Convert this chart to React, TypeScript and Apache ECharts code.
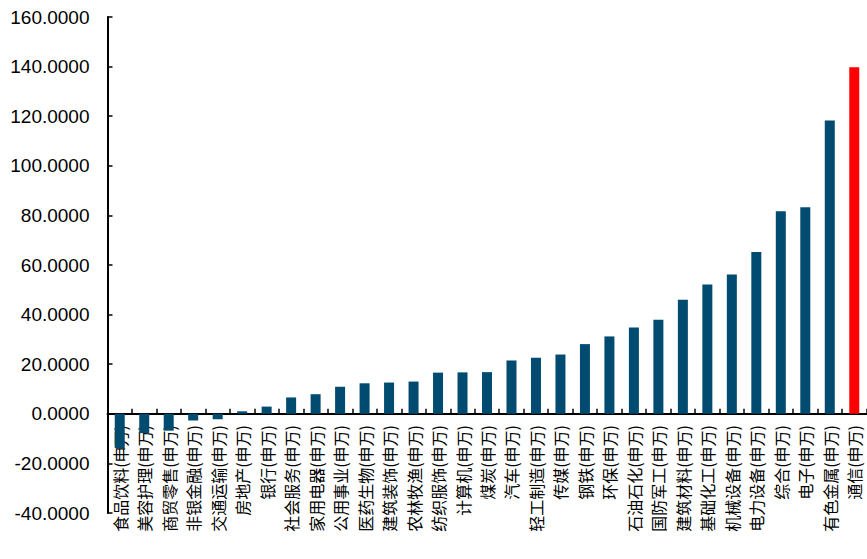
import React, { useEffect, useRef } from "react";
import * as echarts from "echarts";

const categories = [
  "食品饮料(申万)", "美容护理(申万)", "商贸零售(申万)", "非银金融(申万)", "交通运输(申万)",
  "房地产(申万)", "银行(申万)", "社会服务(申万)", "家用电器(申万)", "公用事业(申万)",
  "医药生物(申万)", "建筑装饰(申万)", "农林牧渔(申万)", "纺织服饰(申万)", "计算机(申万)",
  "煤炭(申万)", "汽车(申万)", "轻工制造(申万)", "传媒(申万)", "钢铁(申万)",
  "环保(申万)", "石油石化(申万)", "国防军工(申万)", "建筑材料(申万)", "基础化工(申万)",
  "机械设备(申万)", "电力设备(申万)", "综合(申万)", "电子(申万)", "有色金属(申万)",
  "通信(申万)",
];

const values = [
  -13.8, -7.8, -6.8, -2.7, -2.2,
  1.0, 2.9, 6.6, 7.9, 10.9,
  12.3, 12.6, 13.0, 16.6, 16.7,
  16.8, 21.5, 22.6, 23.9, 28.1,
  31.2, 34.8, 37.9, 46.0, 52.1,
  56.2, 65.2, 81.7, 83.3, 118.3,
  139.7,
];

const highlight = "通信(申万)";
const yTicks = { min: -40, max: 160, interval: 20 };

export default function App() {
  const ref = useRef<HTMLDivElement>(null);
  useEffect(() => {
    if (!ref.current) return;
    const chart = echarts.init(ref.current, undefined, { renderer: "svg" });
    chart.setOption({
      animation: false,
      backgroundColor: "#ffffff",
      grid: { left: 107.5, top: 17, width: 759, bottom: 46, containLabel: false, outerBoundsMode: "none" },
      xAxis: {
        type: "category",
        data: categories,
        axisLine: { onZero: true, lineStyle: { color: "#000", width: 2 } },
        axisTick: { show: true, inside: true, length: 5, alignWithLabel: false, lineStyle: { color: "#000", width: 1.5 } },
        axisLabel: {
          interval: 0,
          rotate: 90,
          margin: -88,
          fontSize: 16,
          color: "#000",
          fontFamily: "Noto Sans CJK SC",
        },
      },
      yAxis: {
        type: "value",
        min: yTicks.min,
        max: yTicks.max,
        interval: yTicks.interval,
        splitLine: { show: false },
        axisLine: { show: true, lineStyle: { color: "#000", width: 2 } },
        axisTick: { show: true, inside: true, length: 5, lineStyle: { color: "#000", width: 1.5 } },
        axisLabel: {
          margin: 18,
          fontSize: 19,
          color: "#000",
          fontFamily: "Liberation Sans",
          formatter: (v: number) => v.toFixed(4),
        },
      },
      series: [
        {
          type: "bar",
          barWidth: 10,
          data: values.map((v, i) => ({
            value: v,
            itemStyle: { color: categories[i] === highlight ? "#FF0000" : "#004B6F" },
          })),
        },
      ],
    });
    return () => chart.dispose();
  }, []);
  return <div ref={ref} style={{ width: 867, height: 559, position: "absolute", left: 0, top: 0 }} />;
}
